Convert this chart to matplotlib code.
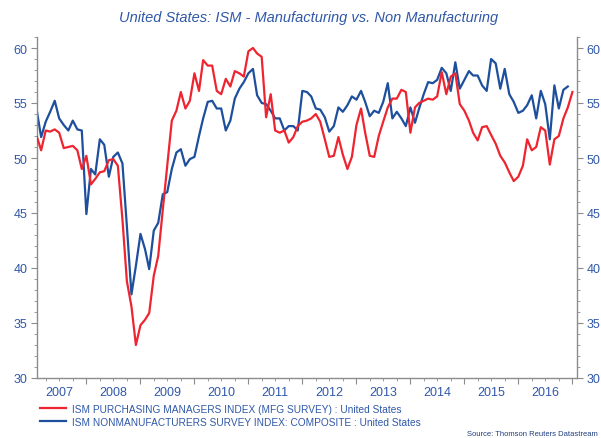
import pandas as pd
import matplotlib
matplotlib.use("Agg")
import matplotlib.pyplot as plt
import matplotlib.dates as mdates
from matplotlib.lines import Line2D

plt.rcParams['font.family'] = ['Liberation Sans', 'DejaVu Sans']

# monthly readings, Feb 2007 .. Jan 2017
months = pd.date_range('2007-02-01', periods=120, freq='MS')

ism_mfg = [51.9, 50.7, 52.5, 52.4, 52.6, 52.3, 50.9, 51.0, 51.1, 50.7, 49.0,
           50.2, 47.6, 48.1, 48.7, 48.8, 49.8, 49.9, 49.3, 44.4, 38.8, 36.5, 33.0,
           34.8, 35.3, 35.9, 39.3, 41.1, 45.3, 49.3, 53.4, 54.3, 56.0, 54.5, 55.2,
           57.7, 56.1, 58.9, 58.4, 58.4, 56.1, 55.8, 57.2, 56.5, 57.9, 57.7, 57.4,
           59.7, 60.0, 59.5, 59.2, 53.7, 55.8, 52.5, 52.3, 52.5, 51.4, 51.9, 52.9,
           53.3, 53.4, 53.6, 54.0, 53.3, 51.7, 50.1, 50.2, 51.9, 50.3, 49.0, 50.1,
           53.0, 54.5, 52.3, 50.2, 50.1, 52.0, 53.3, 54.6, 55.4, 55.4, 56.2, 56.0,
           52.3, 54.6, 55.0, 55.2, 55.4, 55.3, 55.6, 57.8, 55.8, 57.4, 57.7, 54.9,
           54.3, 53.4, 52.3, 51.6, 52.8, 52.9, 52.1, 51.3, 50.2, 49.6, 48.7, 47.9,
           48.3, 49.3, 51.7, 50.7, 51.0, 52.8, 52.5, 49.4, 51.7, 52.0, 53.6, 54.6,
           56.0]

ism_nonmfg = [54.2, 51.9, 53.3, 54.2, 55.2, 53.6, 53.0, 52.5, 53.4, 52.6, 52.5,
              44.9, 49.0, 48.5, 51.7, 51.2, 48.3, 50.1, 50.5, 49.5, 43.8, 37.6, 40.2,
              43.1, 41.7, 39.9, 43.4, 44.1, 46.7, 46.9, 49.0, 50.5, 50.8, 49.3, 49.9,
              50.1, 52.0, 53.6, 55.1, 55.2, 54.5, 54.5, 52.5, 53.4, 55.4, 56.3, 56.9,
              57.7, 58.1, 55.7, 55.0, 54.9, 54.3, 53.6, 53.6, 52.5, 52.9, 52.9, 52.5,
              56.1, 56.0, 55.6, 54.5, 54.4, 53.7, 52.4, 52.9, 54.6, 54.2, 54.8, 55.6,
              55.3, 56.1, 55.1, 53.8, 54.3, 54.1, 55.1, 56.8, 53.6, 54.2, 53.6, 52.9,
              54.6, 53.2, 54.5, 55.8, 56.9, 56.8, 57.1, 58.2, 57.7, 56.1, 58.7, 56.3,
              57.1, 57.9, 57.5, 57.5, 56.6, 56.1, 59.0, 58.6, 56.3, 58.1, 55.8, 55.1,
              54.1, 54.3, 54.8, 55.7, 53.6, 56.1, 54.9, 51.7, 56.6, 54.5, 56.2, 56.5]

years = list(range(2007, 2017))
yticks = [30, 35, 40, 45, 50, 55, 60]

label_mfg = 'ISM PURCHASING MANAGERS INDEX (MFG SURVEY) : United States'
label_non = 'ISM NONMANUFACTURERS SURVEY INDEX: COMPOSITE : United States'

red = '#ee2530'
blue = '#1d4f9c'
txt = '#3058a8'
spine = '#8c8c8c'

fig = plt.figure(figsize=(6.01, 4.39), dpi=100)
ax = fig.add_axes([37 / 601, 1 - 379 / 439, 540 / 601, 341 / 439])

ax.plot(months, ism_mfg, color=red, lw=1.6, zorder=3)
ax.plot(months[:len(ism_nonmfg)], ism_nonmfg, color=blue, lw=1.6, zorder=2)

ax.set_xlim(pd.Timestamp('2007-02-01'), pd.Timestamp('2017-02-01'))
ax.set_ylim(30, 61)

# y axis on both sides
ax.set_yticks(yticks)
ax.set_yticks(range(30, 62), minor=True)
ax.tick_params(axis='y', which='both', direction='out', colors=spine,
               labelcolor=txt, labelsize=9, left=True, right=True,
               labelleft=True, labelright=True, pad=3)
ax.tick_params(axis='y', which='major', length=4)
ax.tick_params(axis='y', which='minor', length=2.5)

# x axis: year ticks, labels in the middle of each year
ax.xaxis.set_major_locator(mdates.YearLocator())
ax.xaxis.set_minor_locator(mdates.MonthLocator(bymonth=[4, 7, 10]))
ax.xaxis.set_major_formatter(plt.NullFormatter())
ax.tick_params(axis='x', which='major', length=4, direction='out', colors=spine)
ax.tick_params(axis='x', which='minor', length=2.5, direction='out', colors=spine)
for y in years:
    ax.text(pd.Timestamp(f'{y}-07-01'), -0.022, str(y), transform=ax.get_xaxis_transform(),
            ha='center', va='top', fontsize=9, color=txt)

for s in ['left', 'right', 'bottom']:
    ax.spines[s].set_color(spine)
    ax.spines[s].set_linewidth(1)
ax.spines['top'].set_visible(False)

fig.text(309 / 601, 1 - 18 / 439, 'United States: ISM - Manufacturing vs. Non Manufacturing',
         ha='center', va='center', fontsize=10.5, style='italic', color=txt)

handles = [Line2D([], [], color=red, lw=1.6), Line2D([], [], color=blue, lw=1.6)]
fig.legend(handles, [label_mfg, label_non], loc='upper left',
           bbox_to_anchor=(40 / 601, 1 - 405 / 439), frameon=False,
           fontsize=7.3, labelcolor=txt, handlelength=2.6, handletextpad=0.6,
           labelspacing=0.25, borderaxespad=0, borderpad=0)

fig.text(598 / 601, 1 - 435 / 439, 'Source: Thomson Reuters Datastream',
         ha='right', va='center', fontsize=5.5, color='#1f3f80')

fig.savefig('out.png', dpi=100)
